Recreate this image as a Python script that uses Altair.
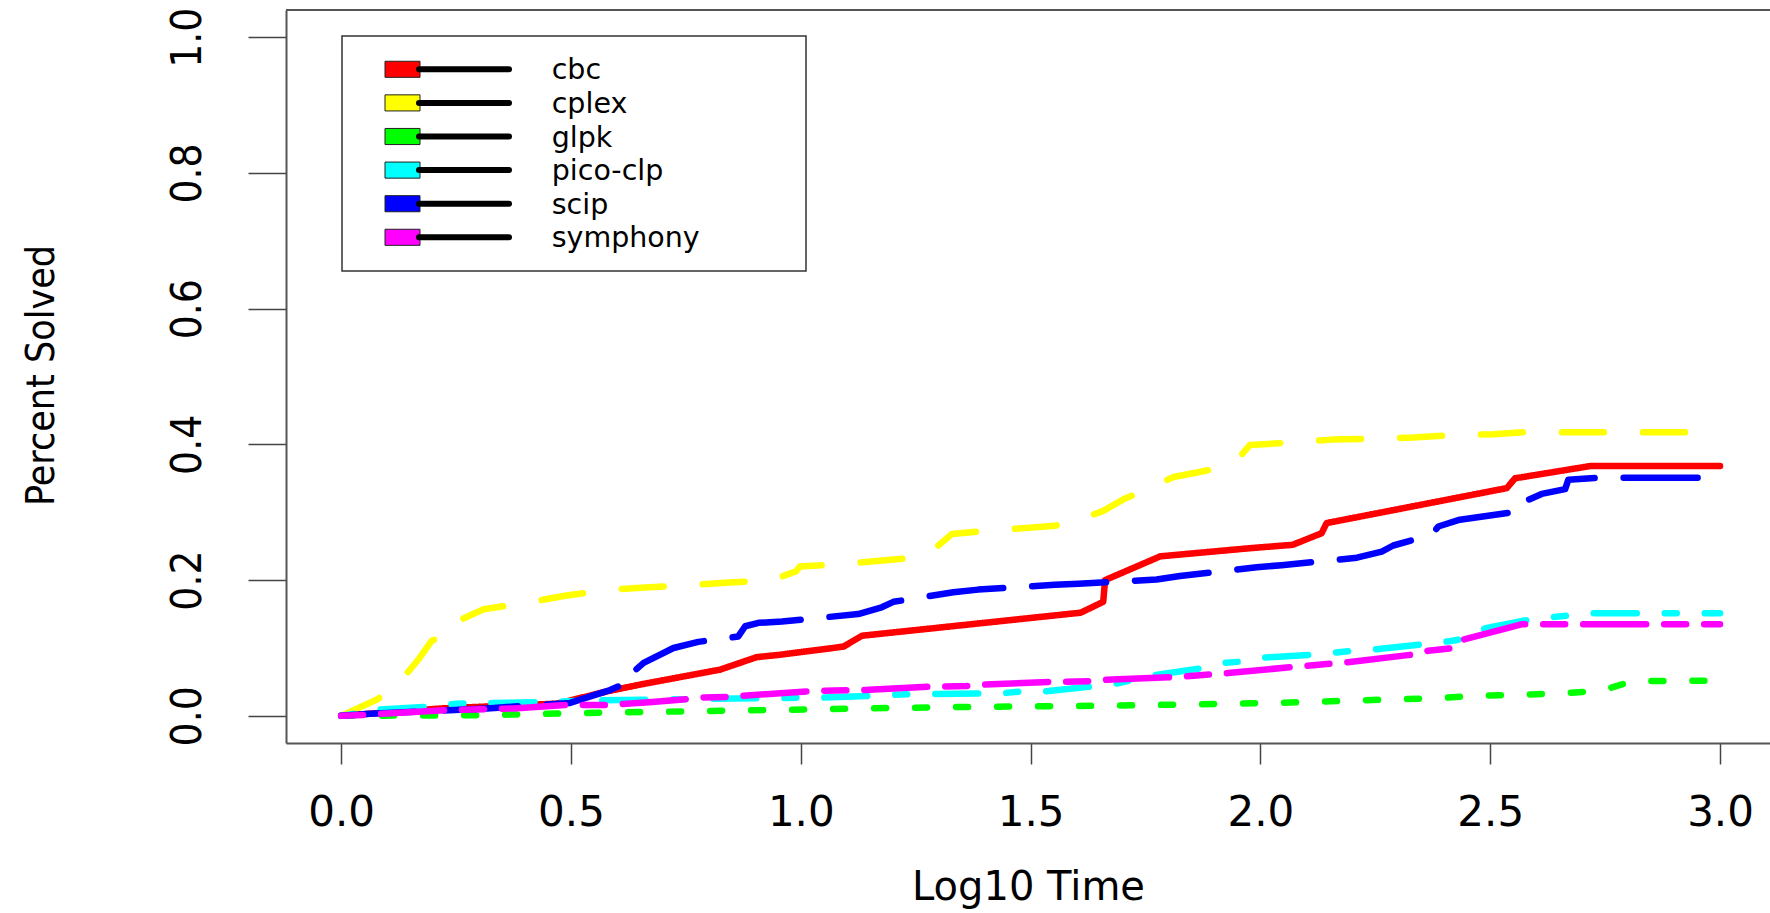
import altair as alt
import pandas as pd

series = ["cbc", "cplex", "glpk", "pico-clp", "scip", "symphony"]
colors = ["#FF0000", "#FFFF00", "#00FF00", "#00FFFF", "#0000FF", "#FF00FF"]
dashes = [[1, 0], [42, 39], [12, 29], [12, 28, 43, 28], [74, 29], [22, 18, 63, 18]]

cbc_x = [0, 0.22, 0.47, 0.578, 0.65, 0.824, 0.904, 0.955, 1.093, 1.133, 1.609, 1.658, 1.662,
         1.782, 1.977, 2.07, 2.133, 2.144, 2.536, 2.554, 2.717, 3.0]
cbc_y = [0, 0.011, 0.018, 0.036, 0.046, 0.068, 0.0865, 0.09, 0.102, 0.118, 0.152, 0.168, 0.200,
         0.235, 0.247, 0.252, 0.269, 0.284, 0.3355, 0.350, 0.368, 0.368]

cplex_x = [0, 0.078, 0.125, 0.168, 0.197, 0.237, 0.252, 0.31, 0.407, 0.487, 0.585, 0.661, 0.763,
           0.835, 0.937, 0.99, 0.998, 1.075, 1.147, 1.249, 1.299, 1.329, 1.376, 1.452, 1.553,
           1.626, 1.658, 1.702, 1.764, 1.811, 1.851, 1.923, 1.959, 1.977, 2.05, 2.155, 2.228,
           2.333, 2.402, 2.507, 2.578, 3.0]
cplex_y = [0, 0.024, 0.048, 0.083, 0.111, 0.119, 0.139, 0.157, 0.167, 0.177, 0.186, 0.189, 0.193,
           0.196, 0.200, 0.213, 0.220, 0.223, 0.227, 0.233, 0.251, 0.268, 0.271, 0.275, 0.280,
           0.294, 0.302, 0.319, 0.337, 0.352, 0.357, 0.367, 0.385, 0.399, 0.402, 0.407, 0.408,
           0.410, 0.413, 0.415, 0.418, 0.418]

glpk_x = [0, 0.3, 0.6, 0.97, 1.33, 1.68, 2.03, 2.2, 2.38, 2.47, 2.56, 2.65, 2.74, 2.81, 3.0]
glpk_y = [0, 0.001, 0.005, 0.009, 0.013, 0.015, 0.019, 0.0225, 0.026, 0.0295, 0.031, 0.033,
          0.037, 0.051, 0.052]

pico_x = [0, 0.078, 0.18, 0.25, 0.43, 0.56, 0.91, 1.05, 1.15, 1.24, 1.39, 1.44, 1.48, 1.53, 1.63,
          1.69, 1.77, 1.87, 1.92, 1.96, 2.01, 2.11, 2.16, 2.20, 2.25, 2.35, 2.41, 2.44, 2.49,
          2.57, 2.63, 2.66, 2.71, 3.0]
pico_y = [0, 0.009, 0.013, 0.018, 0.020, 0.023, 0.026, 0.027, 0.0295, 0.032, 0.033, 0.0334,
          0.036, 0.036, 0.043, 0.048, 0.060, 0.070, 0.078, 0.080, 0.086, 0.090, 0.093, 0.096,
          0.098, 0.105, 0.110, 0.113, 0.129, 0.140, 0.145, 0.147, 0.151, 0.151]

scip_x = [0, 0.063, 0.317, 0.498, 0.585, 0.636, 0.636, 0.658, 0.723, 0.777, 0.864, 0.879, 0.908,
          0.959, 1.125, 1.176, 1.2015, 1.332, 1.386, 1.553, 1.604, 1.774, 1.825, 1.992, 2.046,
          2.21, 2.264, 2.289, 2.373, 2.387, 2.434, 2.561, 2.565, 2.612, 2.663, 2.67, 2.739, 3.0]
scip_y = [0, 0.003, 0.011, 0.019, 0.038, 0.053, 0.065, 0.078, 0.100, 0.109, 0.117, 0.132, 0.137,
          0.139, 0.150, 0.160, 0.168, 0.182, 0.186, 0.193, 0.1945, 0.201, 0.206, 0.219, 0.222,
          0.233, 0.242, 0.251, 0.267, 0.279, 0.289, 0.301, 0.313, 0.327, 0.334, 0.348, 0.351,
          0.351]

sym_x = [0, 0.05, 0.215, 0.317, 0.375, 0.49, 0.58, 0.67, 0.756, 0.785, 0.84, 0.87, 1.013, 1.05,
         1.136, 1.28, 1.36, 1.40, 1.54, 1.63, 1.66, 1.81, 1.93, 2.07, 2.19, 2.34, 2.365, 2.42,
         2.44, 2.57, 3.0]
sym_y = [0, 0.0015, 0.008, 0.010, 0.011, 0.016, 0.016, 0.020, 0.025, 0.027, 0.028, 0.0295, 0.036,
         0.037, 0.038, 0.043, 0.044, 0.046, 0.050, 0.051, 0.053, 0.057, 0.063, 0.072, 0.079,
         0.091, 0.096, 0.100, 0.112, 0.135, 0.135]

x_ticks = [0, 0.5, 1.0, 1.5, 2.0, 2.5, 3.0]
y_ticks = [0, 0.2, 0.4, 0.6, 0.8, 1.0]

all_xy = [(cbc_x, cbc_y), (cplex_x, cplex_y), (glpk_x, glpk_y), (pico_x, pico_y),
          (scip_x, scip_y), (sym_x, sym_y)]
rows = []
for name, (xs, ys) in zip(series, all_xy):
    for i, (xv, yv) in enumerate(zip(xs, ys)):
        rows.append({"series": name, "t": xv, "p": yv, "idx": i})
df = pd.DataFrame(rows)

W, H = 1484, 733
narrow = "Liberation Sans Narrow, DejaVu Sans Condensed, Arial Narrow, sans-serif"
wide = "DejaVu Sans, Verdana, sans-serif"

color_scale = alt.Scale(domain=series, range=colors)
dash_scale = alt.Scale(domain=series, range=dashes)

lines = alt.Chart(df).mark_line(strokeWidth=6.5, strokeCap="round", strokeJoin="round").encode(
    x=alt.X("t:Q", scale=alt.Scale(domain=[-0.12, 3.1087], nice=False, zero=False),
            axis=alt.Axis(values=x_ticks, format=".1f", grid=False, tickSize=21, tickWidth=1.5,
                          tickColor="#444444", domainColor="#555555", domainWidth=2,
                          labelFont=wide, labelFontSize=42, labelColor="black",
                          labelBaseline="middle", labelPadding=48, labelFlush=False,
                          labelOverlap=False, labelBound=False,
                          title="Log10 Time", titleFont=wide, titleFontSize=40,
                          titleFontWeight="normal", titleColor="black",
                          titleBaseline="middle", titleAlign="center", titleX=W / 2, titleY=144)),
    y=alt.Y("p:Q", scale=alt.Scale(domain=[-0.04, 1.04], nice=False, zero=False),
            axis=alt.Axis(values=y_ticks, format=".1f", grid=False, tickSize=38, tickWidth=1.5,
                          tickColor="#444444", domainColor="#555555", domainWidth=2,
                          labelFont=narrow, labelFontSize=42, labelColor="black",
                          labelAngle=270, labelAlign="center", labelBaseline="middle",
                          labelPadding=61, labelOverlap=False, labelBound=False,
                          title="Percent Solved", titleFont=narrow, titleFontSize=39,
                          titleFontWeight="normal", titleColor="black", titleAngle=270,
                          titleAlign="center", titleBaseline="middle", titleX=-245, titleY=365)),
    color=alt.Color("series:N", scale=color_scale, legend=None),
    strokeDash=alt.StrokeDash("series:N", scale=dash_scale, legend=None),
    order=alt.Order("idx:Q"),
)

one = pd.DataFrame({"k": [0]})
top_rule = alt.Chart(one).mark_rule(color="#555555", strokeWidth=2).encode(
    x=alt.value(0), x2=alt.value(W), y=alt.value(0))

main = alt.layer(lines, top_rule)

leg_df = pd.DataFrame({"series": series})
leg_y = alt.Y("series:N", scale=alt.Scale(type="point", domain=series, range=[59.3, 227.3], padding=0),
              axis=None)

box = alt.Chart(one).mark_rect(fill="white", stroke="#333333", strokeWidth=1.5).encode(
    x=alt.value(56), x2=alt.value(520), y=alt.value(26), y2=alt.value(261))

squares = alt.Chart(leg_df).mark_point(shape="M-1,-0.46H1V0.46H-1Z", size=1225, filled=True,
                                       opacity=1, stroke="#222222", strokeWidth=1).encode(
    x=alt.value(116.5), y=leg_y,
    fill=alt.Fill("series:N", scale=color_scale, legend=None))

leg_lines = alt.Chart(leg_df).mark_rule(color="black", strokeWidth=6, strokeCap="round").encode(
    x=alt.value(133), x2=alt.value(223), y=leg_y)

leg_text = alt.Chart(leg_df).mark_text(align="left", baseline="middle", dy=1, fontSize=28.5,
                                       font=wide, color="black").encode(
    x=alt.value(265.7), y=leg_y, text="series:N")

legend = alt.layer(box, squares, leg_lines, leg_text)

chart = alt.layer(main, legend).resolve_scale(y="independent").properties(
    width=W, height=H,
    autosize=alt.AutoSizeParams(type="none"),
    padding={"left": 286, "top": 10, "right": 0, "bottom": 170},
    background="white",
).configure_view(stroke="transparent")

chart.save("out.html", embed_options={"renderer": "svg", "actions": False})
